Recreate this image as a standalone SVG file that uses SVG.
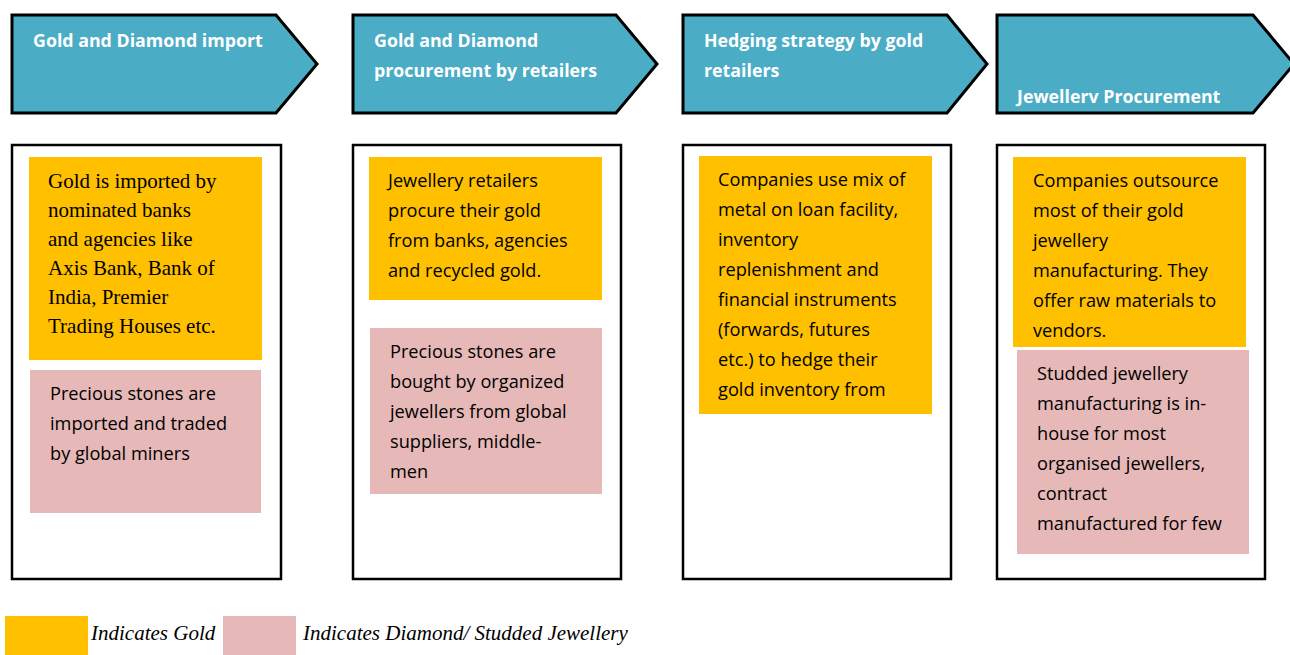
<svg xmlns="http://www.w3.org/2000/svg" width="1290" height="655" viewBox="0 0 1290 655">
<style>
.chev{fill:#4BACC6;stroke:#000;stroke-width:3}
.outer{fill:#fff;stroke:#000;stroke-width:2.5}
.gold{fill:#FFC000}
.pink{fill:#E6B8B7}
.hd{font-family:"Open Sans","Liberation Sans",Arial,sans-serif;font-weight:bold;font-size:17.8px;fill:#fff}
.tx{font-family:"Open Sans","Liberation Sans",Arial,sans-serif;font-size:18.2px;fill:#000}
.sf{font-family:"Liberation Serif","Times New Roman",serif;font-size:21px;fill:#000}
.lg{font-family:"Liberation Serif","Times New Roman",serif;font-style:italic;font-size:21px;fill:#000}
</style>
<rect width="1290" height="655" fill="#fff"/>
<g id="stage1">
<polygon class="chev" points="12,15 276,15 317,64 276,113 12,113"/>
<text class="hd" x="33" y="47">Gold and Diamond import</text>
<rect class="outer" x="12" y="145" width="269" height="434"/>
<rect class="gold" x="29" y="157" width="233" height="203"/>
<text class="sf"><tspan x="48" y="188">Gold is imported by</tspan><tspan x="48" y="217">nominated banks</tspan><tspan x="48" y="246">and agencies like</tspan><tspan x="48" y="275">Axis Bank, Bank of</tspan><tspan x="48" y="304">India, Premier</tspan><tspan x="48" y="333">Trading Houses etc.</tspan></text>
<rect class="pink" x="30" y="370" width="231" height="143"/>
<text class="tx"><tspan x="50" y="400">Precious stones are</tspan><tspan x="50" y="430">imported and traded</tspan><tspan x="50" y="460">by global miners</tspan></text>
</g>
<g id="stage2">
<polygon class="chev" points="353,15 616,15 657,64 616,113 353,113"/>
<text class="hd"><tspan x="374" y="47">Gold and Diamond</tspan><tspan x="374" y="77">procurement by retailers</tspan></text>
<rect class="outer" x="353" y="145" width="268" height="434"/>
<rect class="gold" x="369" y="157" width="233" height="143"/>
<text class="tx"><tspan x="388" y="187">Jewellery retailers</tspan><tspan x="388" y="217">procure their gold</tspan><tspan x="388" y="247">from banks, agencies</tspan><tspan x="388" y="277">and recycled gold.</tspan></text>
<rect class="pink" x="370" y="328" width="232" height="166"/>
<text class="tx"><tspan x="390" y="358">Precious stones are</tspan><tspan x="390" y="388">bought by organized</tspan><tspan x="390" y="418">jewellers from global</tspan><tspan x="390" y="448">suppliers, middle-</tspan><tspan x="390" y="478">men</tspan></text>
</g>
<g id="stage3">
<polygon class="chev" points="683,15 947,15 987,64 947,113 683,113"/>
<text class="hd"><tspan x="704" y="47">Hedging strategy by gold</tspan><tspan x="704" y="77">retailers</tspan></text>
<rect class="outer" x="683" y="145" width="268" height="434"/>
<rect class="gold" x="699" y="156" width="233" height="258"/>
<text class="tx"><tspan x="718" y="186">Companies use mix of</tspan><tspan x="718" y="216">metal on loan facility,</tspan><tspan x="718" y="246">inventory</tspan><tspan x="718" y="276">replenishment and</tspan><tspan x="718" y="306">financial instruments</tspan><tspan x="718" y="336">(forwards, futures</tspan><tspan x="718" y="366">etc.) to hedge their</tspan><tspan x="718" y="396">gold inventory from</tspan></text>
</g>
<g id="stage4">
<polygon class="chev" points="997,15 1253,15 1294,64 1253,113 997,113"/>
<text class="hd" x="1017" y="103">Jewellerv Procurement</text>
<rect class="outer" x="997" y="145" width="268" height="434"/>
<rect class="gold" x="1013" y="157" width="233" height="190"/>
<text class="tx"><tspan x="1033" y="187">Companies outsource</tspan><tspan x="1033" y="217">most of their gold</tspan><tspan x="1033" y="247">jewellery</tspan><tspan x="1033" y="277">manufacturing. They</tspan><tspan x="1033" y="307">offer raw materials to</tspan><tspan x="1033" y="337">vendors.</tspan></text>
<rect class="pink" x="1017" y="350" width="232" height="204"/>
<text class="tx"><tspan x="1037" y="380">Studded jewellery</tspan><tspan x="1037" y="410">manufacturing is in-</tspan><tspan x="1037" y="440">house for most</tspan><tspan x="1037" y="470">organised jewellers,</tspan><tspan x="1037" y="500">contract</tspan><tspan x="1037" y="530">manufactured for few</tspan></text>
</g>
<g id="connectors"></g>
<g id="legend">
<rect class="gold" x="5" y="616" width="83" height="39"/>
<text class="lg" x="91" y="640">Indicates Gold</text>
<rect class="pink" x="223" y="616" width="73" height="39"/>
<text class="lg" x="303" y="640">Indicates Diamond/ Studded Jewellery</text>
</g>
</svg>
